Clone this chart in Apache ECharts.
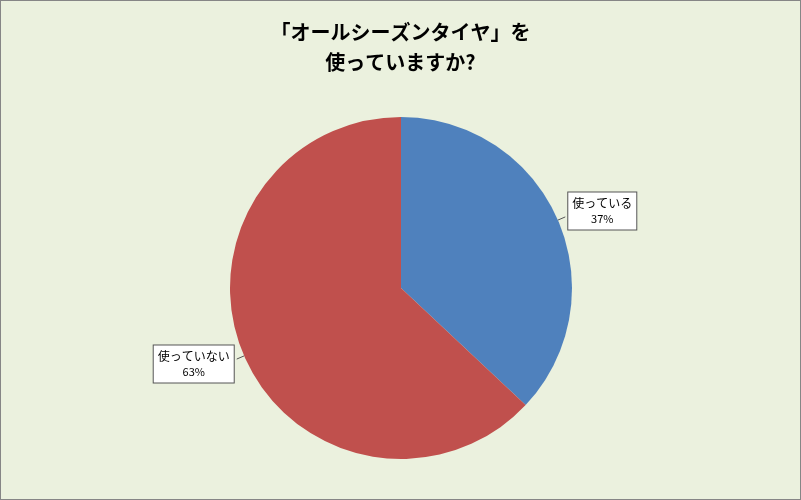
<!DOCTYPE html>
<html><head><meta charset="utf-8">
<script src="https://cdn.jsdelivr.net/npm/echarts@6/dist/echarts.min.js"></script>
<style>
html,body{margin:0;padding:0;background:#fff;}
#c{width:801px;height:500px;box-sizing:border-box;border:1px solid #868686;background:#EBF1DE;}
</style></head><body>
<div id="c"></div>
<script>
const titleText = '「オールシーズンタイヤ」を\n使っていますか?';
const categories = ['使っている', '使っていない'];
const values = [37, 63];
const colors = ['#4F81BD', '#C0504D'];

const chart = echarts.init(document.getElementById('c'), null, {renderer: 'canvas'});
chart.setOption({
  backgroundColor: '#EBF1DE',
  animation: false,
  title: {
    text: titleText,
    left: 'center',
    top: 11,
    textStyle: {
      fontFamily: '"Noto Sans CJK JP", sans-serif',
      fontSize: 20, fontWeight: 'bold', color: '#000', lineHeight: 30
    }
  },
  series: [{
    type: 'pie',
    center: [400, 287],
    radius: 171,
    startAngle: 90,
    clockwise: true,
    data: categories.map((c, i) => ({name: c, value: values[i], itemStyle: {color: colors[i]}})),
    itemStyle: {borderWidth: 0},
    label: {
      show: true,
      position: 'outside',
      formatter: '{n|{b}}\n{p|{d}%}',
      backgroundColor: '#fff',
      borderColor: '#555',
      borderWidth: 1,
      padding: [3, 4, 3, 4],
      distanceToLabelLine: 3,
      rich: {
        n: {fontFamily: '"Noto Sans CJK JP", sans-serif', fontSize: 12, color: '#000', lineHeight: 16, align: 'center'},
        p: {fontFamily: '"Noto Sans CJK JP", sans-serif', fontSize: 11, color: '#000', lineHeight: 15, align: 'center'}
      }
    },
    labelLine: {show: true, length: 8, length2: 0, lineStyle: {color: '#555', width: 1}},
    labelLayout: function (p) { return {dy: p.dataIndex === 0 ? -6 : 5}; }
  }]
});
</script>
</body></html>
